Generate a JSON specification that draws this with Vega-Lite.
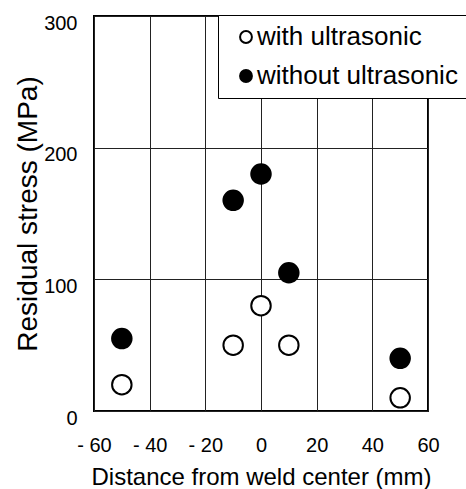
{
  "$schema": "https://vega.github.io/schema/vega-lite/v6.json",
  "width": 334,
  "height": 395,
  "autosize": {"type": "none"},
  "padding": {"left": 94, "top": 16, "right": 38, "bottom": 78},
  "background": "white",
  "config": {
    "font": "Liberation Sans",
    "view": {"stroke": "black", "strokeWidth": 2},
    "axis": {"labelColor": "black", "titleColor": "black", "titleFontWeight": "normal", "ticks": false, "domain": false, "grid": true, "gridColor": "#222", "gridWidth": 1, "gridOpacity": 1, "labelOverlap": false}
  },
  "data": {
    "values": [
      {"distance": -50, "stress": 20, "series": "with ultrasonic"},
      {"distance": -10, "stress": 50, "series": "with ultrasonic"},
      {"distance": 0, "stress": 80, "series": "with ultrasonic"},
      {"distance": 10, "stress": 50, "series": "with ultrasonic"},
      {"distance": 50, "stress": 10, "series": "with ultrasonic"},
      {"distance": -50, "stress": 55, "series": "without ultrasonic"},
      {"distance": -10, "stress": 160, "series": "without ultrasonic"},
      {"distance": 0, "stress": 180, "series": "without ultrasonic"},
      {"distance": 10, "stress": 105, "series": "without ultrasonic"},
      {"distance": 50, "stress": 40, "series": "without ultrasonic"}
    ]
  },
  "mark": {"type": "point", "shape": "circle", "filled": true, "stroke": "black", "strokeWidth": 2, "size": 380, "opacity": 1},
  "encoding": {
    "x": {
      "field": "distance",
      "type": "quantitative",
      "scale": {"domain": [-60, 60], "nice": false, "zero": false},
      "axis": {
        "values": [-60, -40, -20, 0, 20, 40, 60],
        "title": "Distance from weld center (mm)",
        "labelExpr": "datum.value < 0 ? '- ' + abs(datum.value) : datum.label",
        "labelFlush": false,
        "labelFontSize": 20,
        "labelBaseline": "alphabetic",
        "labelPadding": 40,
        "titleFontSize": 24,
        "titleBaseline": "alphabetic",
        "titleX": 167,
        "titleY": 73
      }
    },
    "y": {
      "field": "stress",
      "type": "quantitative",
      "scale": {"domain": [0, 300], "nice": false},
      "axis": {
        "values": [0, 100, 200, 300],
        "title": "Residual stress (MPa)",
        "labelFontSize": 20,
        "labelBaseline": "alphabetic",
        "labelOffset": 13,
        "labelPadding": 17,
        "labelFlush": false,
        "titleFontSize": 28,
        "titleBaseline": "alphabetic",
        "titleX": -58,
        "titleY": 197.5
      }
    },
    "fill": {
      "field": "series",
      "type": "nominal",
      "scale": {"domain": ["with ultrasonic", "without ultrasonic"], "range": ["white", "black"]},
      "legend": {
        "orient": "none",
        "legendX": 124,
        "legendY": -1,
        "title": null,
        "fillColor": "white",
        "strokeColor": "black",
        "padding": 9,
        "labelFontSize": 26,
        "labelColor": "black",
        "labelLimit": 400,
        "symbolType": "circle",
        "symbolSize": 140,
        "symbolStrokeColor": "black",
        "symbolStrokeWidth": 2,
        "symbolOffset": 6,
        "labelOffset": -2,
        "rowPadding": 13
      }
    }
  }
}
